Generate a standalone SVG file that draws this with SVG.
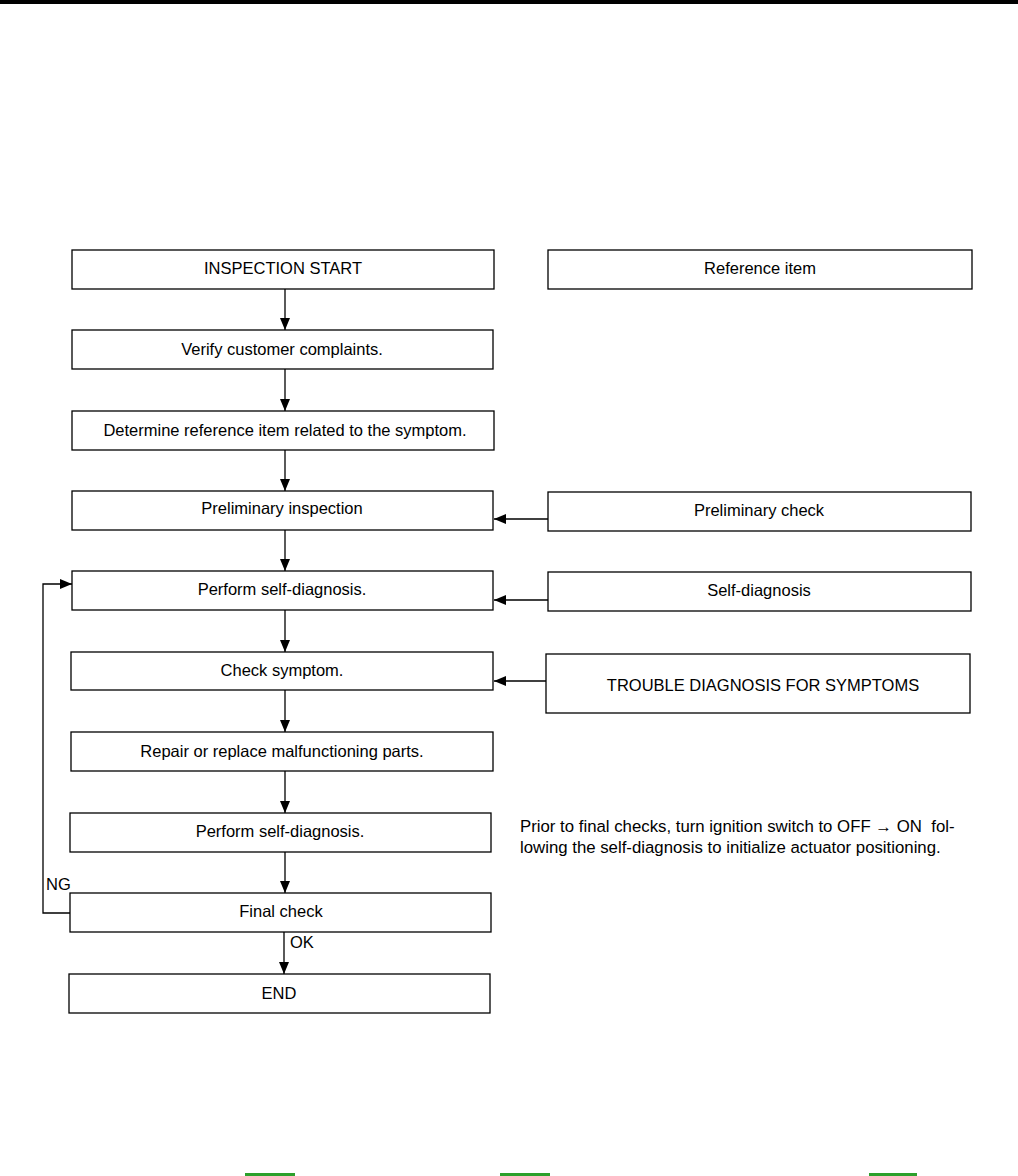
<svg xmlns="http://www.w3.org/2000/svg" width="1018" height="1176" viewBox="0 0 1018 1176">
<style>
.box{fill:#fff;stroke:#000;stroke-width:1.3}
.t{font-family:"Liberation Sans",Arial,sans-serif;font-size:16.5px;fill:#000;text-anchor:middle}
.l{font-family:"Liberation Sans",Arial,sans-serif;font-size:16.5px;fill:#000}
.n{font-family:"Liberation Sans",Arial,sans-serif;font-size:16.8px;fill:#000}
.c{fill:none;stroke:#000;stroke-width:1.3}
</style>
<defs>
<marker id="ah" markerWidth="12" markerHeight="10" refX="12" refY="5" orient="auto" markerUnits="userSpaceOnUse">
<path d="M0,0 L12,5 L0,10 Z" fill="#000"/>
</marker>
</defs>
<rect x="0" y="0" width="1018" height="4" fill="#000"/>
<g id="connectors">
<line class="c" x1="285" y1="289" x2="285" y2="330" marker-end="url(#ah)"/>
<line class="c" x1="285" y1="369" x2="285" y2="411" marker-end="url(#ah)"/>
<line class="c" x1="285" y1="450" x2="285" y2="491" marker-end="url(#ah)"/>
<line class="c" x1="285" y1="530" x2="285" y2="571" marker-end="url(#ah)"/>
<line class="c" x1="285" y1="610" x2="285" y2="652" marker-end="url(#ah)"/>
<line class="c" x1="285" y1="690" x2="285" y2="732" marker-end="url(#ah)"/>
<line class="c" x1="285" y1="771" x2="285" y2="813" marker-end="url(#ah)"/>
<line class="c" x1="285" y1="852" x2="285" y2="893" marker-end="url(#ah)"/>
<line class="c" x1="284" y1="932" x2="284" y2="974" marker-end="url(#ah)"/>
<line class="c" x1="548" y1="519" x2="494" y2="519" marker-end="url(#ah)"/>
<line class="c" x1="548" y1="600" x2="494" y2="600" marker-end="url(#ah)"/>
<line class="c" x1="546" y1="681" x2="494" y2="681" marker-end="url(#ah)"/>
<polyline class="c" points="70,913 43,913 43,584 72,584" marker-end="url(#ah)"/>
<text class="l" x="46" y="890">NG</text>
<text class="l" x="290" y="948">OK</text>
</g>
<g id="n-start"><rect class="box" x="72" y="250" width="422" height="39"/><text class="t" x="283" y="274">INSPECTION START</text></g>
<g id="n-ref"><rect class="box" x="548" y="250" width="424" height="39"/><text class="t" x="760" y="274">Reference item</text></g>
<g id="n-verify"><rect class="box" x="72" y="330" width="421" height="39"/><text class="t" x="282" y="355">Verify customer complaints.</text></g>
<g id="n-determine"><rect class="box" x="72" y="411" width="422" height="39"/><text class="t" x="285" y="436">Determine reference item related to the symptom.</text></g>
<g id="n-prelim"><rect class="box" x="72" y="491" width="421" height="39"/><text class="t" x="282" y="514">Preliminary inspection</text></g>
<g id="n-prelimcheck"><rect class="box" x="548" y="492" width="423" height="39"/><text class="t" x="759" y="516">Preliminary check</text></g>
<g id="n-self1"><rect class="box" x="72" y="571" width="421" height="39"/><text class="t" x="282" y="595">Perform self-diagnosis.</text></g>
<g id="n-selfdiag"><rect class="box" x="548" y="572" width="423" height="39"/><text class="t" x="759" y="596">Self-diagnosis</text></g>
<g id="n-symptom"><rect class="box" x="71" y="652" width="422" height="38"/><text class="t" x="282" y="676">Check symptom.</text></g>
<g id="n-trouble"><rect class="box" x="546" y="654" width="424" height="59"/><text class="t" x="763" y="691">TROUBLE DIAGNOSIS FOR SYMPTOMS</text></g>
<g id="n-repair"><rect class="box" x="71" y="732" width="422" height="39"/><text class="t" x="282" y="757">Repair or replace malfunctioning parts.</text></g>
<g id="n-self2"><rect class="box" x="70" y="813" width="421" height="39"/><text class="t" x="280" y="837">Perform self-diagnosis.</text></g>
<g id="n-final"><rect class="box" x="70" y="893" width="421" height="39"/><text class="t" x="281" y="917">Final check</text></g>
<g id="n-end"><rect class="box" x="69" y="974" width="421" height="39"/><text class="t" x="279" y="999">END</text></g>
<g id="note">
<text class="n" x="520" y="832" xml:space="preserve">Prior to final checks, turn ignition switch to OFF → ON  fol-</text>
<text class="n" x="520" y="853">lowing the self-diagnosis to initialize actuator positioning.</text>
</g>
<rect x="245" y="1173" width="50" height="3" fill="#2ca02c"/>
<rect x="500" y="1173" width="50" height="3" fill="#2ca02c"/>
<rect x="869" y="1173" width="48" height="3" fill="#2ca02c"/>
</svg>
